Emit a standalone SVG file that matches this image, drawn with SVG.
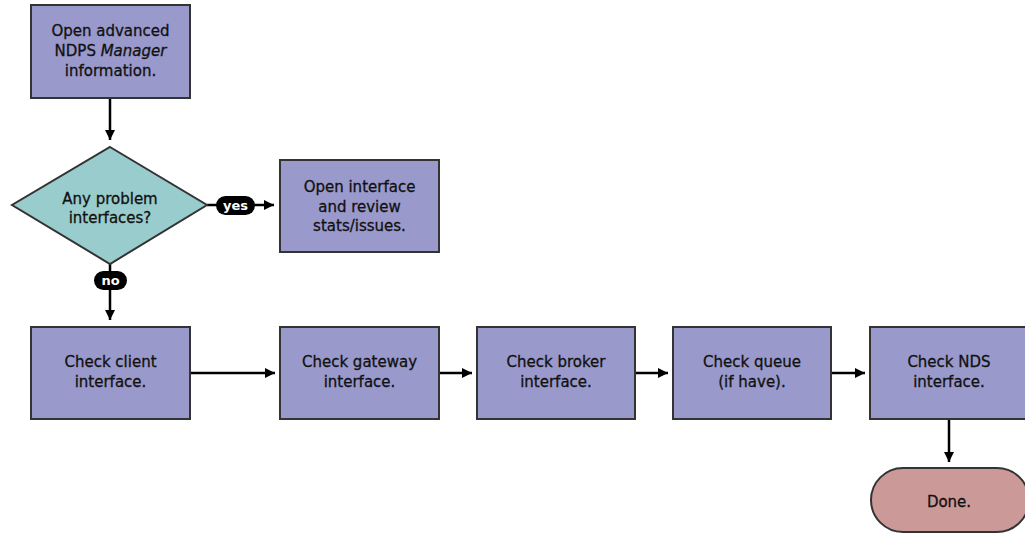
<svg xmlns="http://www.w3.org/2000/svg" width="1025" height="534" viewBox="0 0 1025 534">
<style>
.box{fill:#9999cc;stroke:#333;stroke-width:2}
.dia{fill:#99cccc;stroke:#333;stroke-width:2}
.end{fill:#cc9999;stroke:#333;stroke-width:2}
.t{font-family:"DejaVu Sans",sans-serif;font-size:15px;fill:#111;stroke:#111;stroke-width:0.3;text-anchor:middle}
.c{stroke:#000;stroke-width:2.5;fill:none;marker-end:url(#ah)}
.pill{fill:#000}
.pt{font-family:"DejaVu Sans",sans-serif;font-size:13px;font-weight:bold;fill:#fff;text-anchor:middle}
</style>
<defs>
<marker id="ah" viewBox="0 0 10 10" refX="10" refY="5" markerWidth="4" markerHeight="4" markerUnits="strokeWidth" orient="auto">
<path d="M0,0 L10,5 L0,10 z" fill="#000"/>
</marker>
</defs>
<rect width="1025" height="534" fill="#fff"/>
<g id="connectors">
<line class="c" x1="110" y1="98" x2="110" y2="140"/>
<line class="c" x1="207" y1="205" x2="274" y2="205"/>
<line class="c" x1="110" y1="264" x2="110" y2="320"/>
<line class="c" x1="190" y1="373" x2="275" y2="373"/>
<line class="c" x1="439" y1="373" x2="472" y2="373"/>
<line class="c" x1="635" y1="373" x2="668" y2="373"/>
<line class="c" x1="831" y1="373" x2="865" y2="373"/>
<line class="c" x1="949" y1="419" x2="949" y2="462"/>
<g id="label-yes"><rect class="pill" x="216" y="196" width="39" height="19" rx="9.5"/><text class="pt" x="235.5" y="210">yes</text></g>
<g id="label-no"><rect class="pill" x="94" y="271" width="33" height="19" rx="9.5"/><text class="pt" x="110.5" y="285">no</text></g>
</g>
<g id="n-open">
<rect class="box" x="31" y="5" width="159" height="93"/>
<text class="t" x="110.5" y="36">Open advanced</text>
<text class="t" x="110.5" y="56">NDPS <tspan font-style="italic">Manager</tspan></text>
<text class="t" x="110.5" y="76">information.</text>
</g>
<g id="n-decision">
<polygon class="dia" points="110,147 207,205 110,264 12,205"/>
<text class="t" x="110" y="204">Any problem</text>
<text class="t" x="110" y="223">interfaces?</text>
</g>
<g id="n-review">
<rect class="box" x="280" y="160" width="159" height="92"/>
<text class="t" x="359.5" y="192">Open interface</text>
<text class="t" x="359.5" y="212">and review</text>
<text class="t" x="359.5" y="231">stats/issues.</text>
</g>
<g id="n-client">
<rect class="box" x="31" y="327" width="159" height="92"/>
<text class="t" x="110.5" y="367">Check client</text>
<text class="t" x="110.5" y="387">interface.</text>
</g>
<g id="n-gateway">
<rect class="box" x="280" y="327" width="159" height="92"/>
<text class="t" x="359.5" y="367">Check gateway</text>
<text class="t" x="359.5" y="387">interface.</text>
</g>
<g id="n-broker">
<rect class="box" x="477" y="327" width="158" height="92"/>
<text class="t" x="556" y="367">Check broker</text>
<text class="t" x="556" y="387">interface.</text>
</g>
<g id="n-queue">
<rect class="box" x="673" y="327" width="158" height="92"/>
<text class="t" x="752" y="367">Check queue</text>
<text class="t" x="752" y="387">(if have).</text>
</g>
<g id="n-nds">
<rect class="box" x="870" y="327" width="158" height="92"/>
<text class="t" x="949" y="367">Check NDS</text>
<text class="t" x="949" y="387">interface.</text>
</g>
<g id="n-done">
<rect class="end" x="871" y="468" width="158" height="64" rx="32"/>
<text class="t" x="949" y="507">Done.</text>
</g>
</svg>
